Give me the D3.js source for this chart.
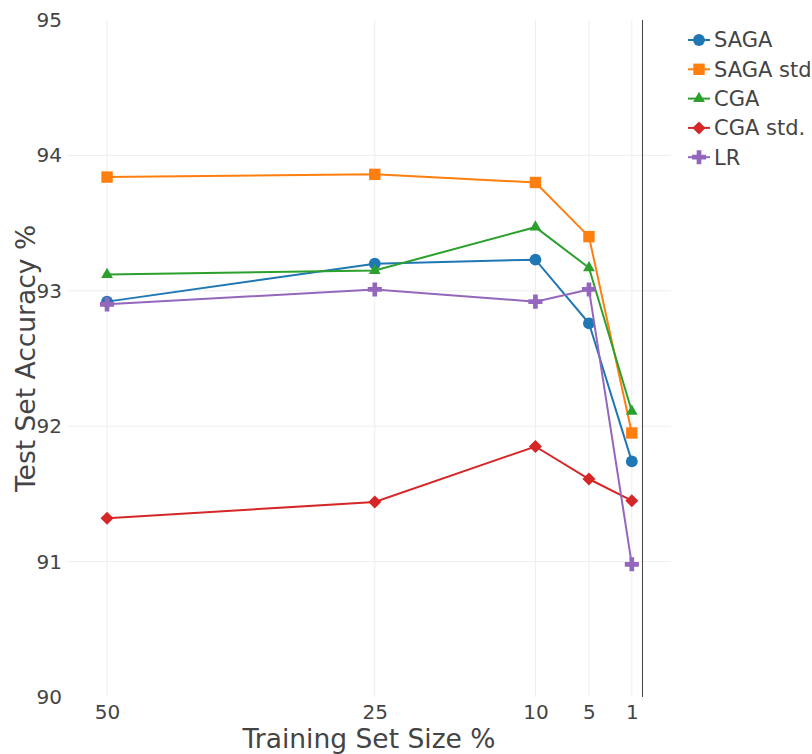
<!DOCTYPE html>
<html>
<head>
<meta charset="utf-8">
<script src="https://cdn.jsdelivr.net/npm/d3@7"></script>
<style>
  body { margin: 0; background: #fff; }
  text { font-family: 'DejaVu Sans', sans-serif; fill: #444; }
</style>
</head>
<body>
<div class="container"></div>
<script>
// data
var trainSizes = [50, 25, 10, 5, 1];
var seriesNames = ["SAGA", "SAGA std.", "CGA", "CGA std.", "LR"];
var saga    = [92.92, 93.20, 93.23, 92.76, 91.74];
var sagaStd = [93.84, 93.86, 93.80, 93.40, 91.95];
var cga     = [93.12, 93.15, 93.47, 93.17, 92.11];
var cgaStd  = [91.32, 91.44, 91.85, 91.61, 91.45];
var lr      = [92.90, 93.01, 92.92, 93.01, 90.98];
var yTicks = [90, 91, 92, 93, 94, 95];

var colors = ["#1f77b4", "#ff7f0e", "#2ca02c", "#d62728", "#9467bd"];
var symbols = [d3.symbolCircle, d3.symbolSquare, d3.symbolTriangle, d3.symbolSquare, d3.symbolCross];
var symSize = [110, 130, 60, 85, 110];
var symRot = [0, 0, 0, 45, 0];

var series = [saga, sagaStd, cga, cgaStd, lr].map((vals, i) => ({
    name: seriesNames[i], color: colors[i], symbol: symbols[i], size: symSize[i], rot: symRot[i],
    points: vals.map((v, j) => ({x: trainSizes[j], y: v}))
}));

var width = 812, height = 754;
var margin = {top: 20, right: 141, bottom: 57, left: 67};

var svg = d3.select(".container").append("svg")
    .attr("width", width)
    .attr("height", height);

var x = d3.scaleLinear()
    .domain([53.74, -2.66])
    .range([margin.left, width - margin.right]);

var y = d3.scaleLinear()
    .domain([90, 95])
    .range([height - margin.bottom, margin.top]);

// grid
svg.append("g")
    .selectAll("line")
    .data(yTicks.filter(d => d > 90 && d < 95))
    .join("line")
      .attr("x1", margin.left).attr("x2", width - margin.right)
      .attr("y1", d => y(d)).attr("y2", d => y(d))
      .attr("stroke", "#eee").attr("stroke-width", 1);

svg.append("g")
    .selectAll("line")
    .data(trainSizes)
    .join("line")
      .attr("x1", d => x(d)).attr("x2", d => x(d))
      .attr("y1", margin.top).attr("y2", height - margin.bottom)
      .attr("stroke", "#eee").attr("stroke-width", 1);

// zero line
svg.append("line")
    .attr("x1", x(0)).attr("x2", x(0))
    .attr("y1", margin.top).attr("y2", height - margin.bottom)
    .attr("stroke", "#444").attr("stroke-width", 1);

// axes
yAxis = g => g
    .attr("transform", `translate(${margin.left - 2},0)`)
    .call(d3.axisLeft(y).tickValues(yTicks).tickFormat(d3.format("d")).tickSize(0))
    .call(g => g.select(".domain").remove())
    .call(g => g.selectAll("text").style("font-size", "20px").style("font-family", "'DejaVu Sans',sans-serif").attr("fill", "#444"));

xAxis = g => g
    .attr("transform", `translate(0,${height - margin.bottom + 5})`)
    .call(d3.axisBottom(x).tickValues(trainSizes).tickFormat(d3.format("d")).tickSize(0))
    .call(g => g.select(".domain").remove())
    .call(g => g.selectAll("text").style("font-size", "20px").style("font-family", "'DejaVu Sans',sans-serif").attr("fill", "#444"));

svg.append("g").call(yAxis);
svg.append("g").call(xAxis);

svg.append("text")
    .attr("x", (margin.left + width - margin.right) / 2)
    .attr("y", 748)
    .attr("text-anchor", "middle")
    .style("font-size", "26.5px")
    .text("Training Set Size %");

svg.append("text")
    .attr("transform", `translate(35,${(margin.top + height - margin.bottom) / 2}) rotate(-90)`)
    .attr("text-anchor", "middle")
    .style("font-size", "26.5px")
    .text("Test Set Accuracy %");

// lines + markers
var line = d3.line().x(d => x(d.x)).y(d => y(d.y));

var sg = svg.append("g")
    .selectAll("g")
    .data(series)
    .join("g");

sg.append("path")
    .attr("d", d => line(d.points))
    .attr("fill", "none")
    .attr("stroke", d => d.color)
    .attr("stroke-width", 2);

sg.each(function(s) {
    d3.select(this).selectAll(".pt")
        .data(s.points)
        .join("path")
          .attr("class", "pt")
          .attr("transform", d => `translate(${x(d.x)},${y(d.y)}) rotate(${s.rot})`)
          .attr("d", d3.symbol().type(s.symbol).size(s.size))
          .attr("fill", s.color);
});

// legend
var legend = svg.append("g")
    .selectAll("g")
    .data(series)
    .join("g")
      .attr("transform", (d, i) => `translate(688,${40 + i * 29.3})`);

legend.append("line")
    .attr("x1", 0).attr("x2", 22)
    .attr("stroke", d => d.color).attr("stroke-width", 2);

legend.append("path")
    .attr("transform", d => `translate(11,0) rotate(${d.rot})`)
    .attr("d", d => d3.symbol().type(d.symbol).size(d.size)())
    .attr("fill", d => d.color);

legend.append("text")
    .attr("x", 26)
    .attr("dy", "0.35em")
    .style("font-size", "21px")
    .text(d => d.name);
</script>
</body>
</html>
